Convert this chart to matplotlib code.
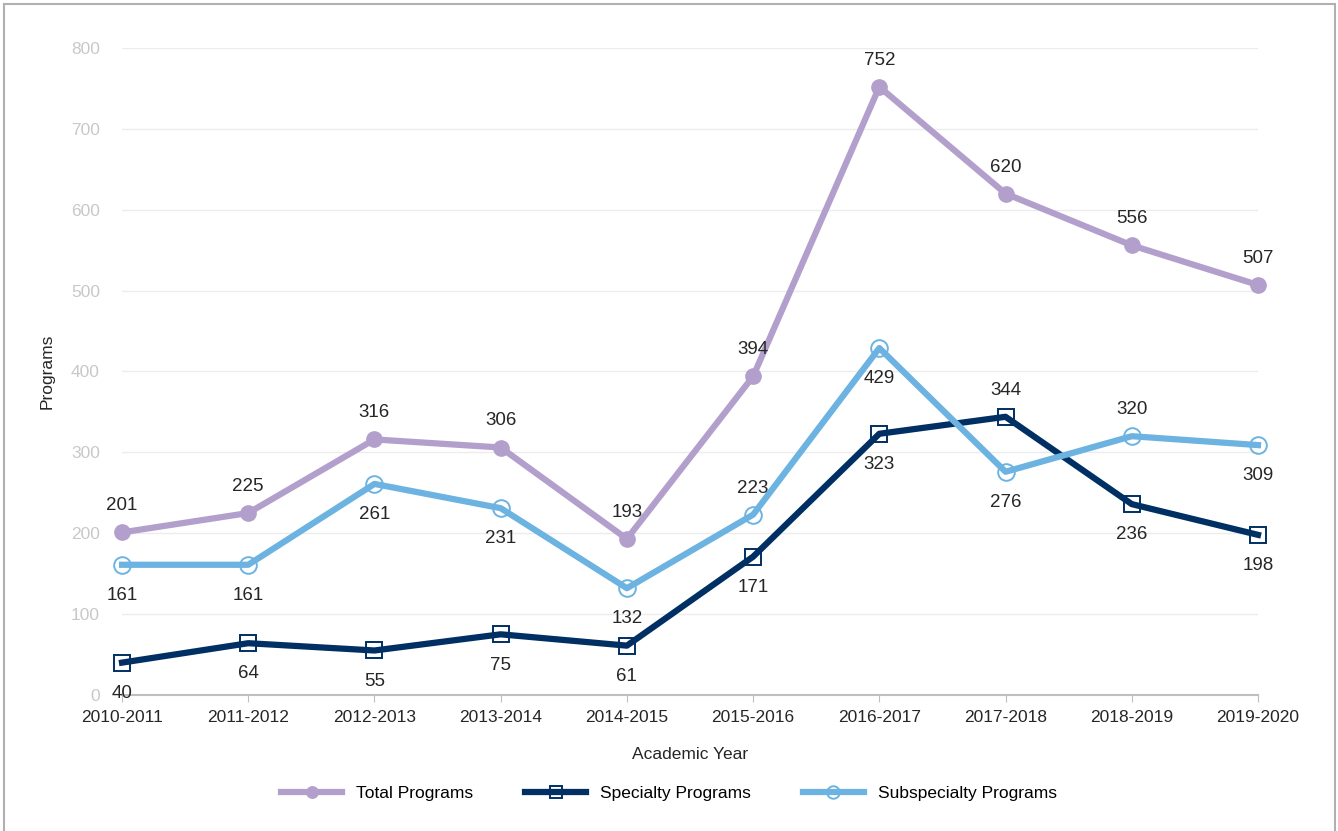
import matplotlib.pyplot as plt
from matplotlib.patches import Rectangle

years = ["2010-2011", "2011-2012", "2012-2013", "2013-2014", "2014-2015",
         "2015-2016", "2016-2017", "2017-2018", "2018-2019", "2019-2020"]
total = [201, 225, 316, 306, 193, 394, 752, 620, 556, 507]
specialty = [40, 64, 55, 75, 61, 171, 323, 344, 236, 198]
subspecialty = [161, 161, 261, 231, 132, 223, 429, 276, 320, 309]

# label placement: 1 = above the point, -1 = below
total_pos = [1] * 10
spec_pos = [-1, -1, -1, -1, -1, -1, -1, 1, -1, -1]
sub_pos = [-1, -1, -1, -1, -1, 1, -1, -1, 1, -1]

c_total = "#b39fcc"
c_spec = "#002f63"
c_sub = "#6db3e2"

plt.rcParams["font.family"] = ["Liberation Sans", "DejaVu Sans"]

fig = plt.figure(figsize=(13.38, 8.31), dpi=100)
ax = fig.add_axes([0.0912, 0.1637, 0.849, 0.7785])

x = list(range(len(years)))
ax.plot(x, total, color=c_total, lw=4.5, marker="o", ms=11,
        mfc=c_total, mec=c_total, label="Total Programs", zorder=3, clip_on=False)
ax.plot(x, specialty, color=c_spec, lw=4.5, marker="s", ms=12,
        mfc="none", mec=c_spec, mew=1.4, label="Specialty Programs", zorder=4, clip_on=False)
ax.plot(x, subspecialty, color=c_sub, lw=4.5, marker="o", ms=12,
        mfc="none", mec=c_sub, mew=1.4, label="Subspecialty Programs", zorder=5, clip_on=False)

for series, pos in [(total, total_pos), (specialty, spec_pos), (subspecialty, sub_pos)]:
    for i, (v, p) in enumerate(zip(series, pos)):
        off = 13 if p > 0 else 16
        ax.annotate(str(v), (i, v), xytext=(0, off * p), textcoords="offset points",
                    ha="center", va="bottom" if p > 0 else "top",
                    fontsize=13.5, color="#262626")

ax.set_xlim(0, 9)
ax.set_ylim(0, 800)
ax.set_yticks(range(0, 801, 100))
ax.set_xticks(x)
ax.set_xticklabels(years, fontsize=12.5, color="#262626")
ax.tick_params(axis="y", length=0, labelcolor="#c8c8c8", labelsize=12.5, pad=16)
ax.tick_params(axis="x", length=5, color="#bfbfbf", pad=6)
ax.grid(axis="y", color="#ececec", lw=1)
ax.set_axisbelow(True)
for s in ["top", "right", "left"]:
    ax.spines[s].set_visible(False)
ax.spines["bottom"].set_color("#bfbfbf")
ax.spines["bottom"].set_linewidth(1.5)
ax.spines["bottom"].set_zorder(1)

ax.set_xlabel("Academic Year", fontsize=12.5, color="#262626", labelpad=16)
ax.set_ylabel("Programs", fontsize=12.5, color="#262626", labelpad=12)

fig.legend(loc="center", bbox_to_anchor=(0.5, 0.045), ncol=3, frameon=False,
           fontsize=12.5, handlelength=3.5, columnspacing=3.0, markerscale=0.75)

fig.patches.append(Rectangle((0.003, -0.01), 0.995, 1.005, transform=fig.transFigure,
                             fill=False, edgecolor="#b0b0b0", lw=1.5))

fig.savefig("out.png", dpi=100)
